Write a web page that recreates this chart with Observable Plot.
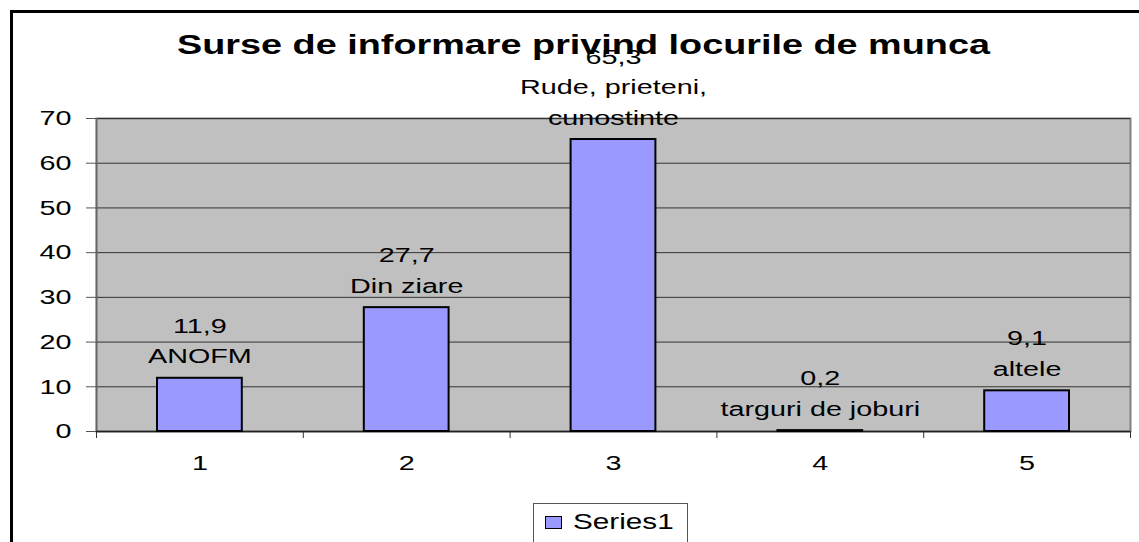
<!DOCTYPE html>
<html>
<head>
<meta charset="utf-8">
<script src="https://cdn.jsdelivr.net/npm/d3@7"></script>
<script src="https://cdn.jsdelivr.net/npm/@observablehq/plot@0.6"></script>
<style>
  html, body { margin: 0; padding: 0; background: #fff; }
  #wrap { position: relative; width: 1139px; height: 542px; overflow: hidden; font-family: "Liberation Sans", Arial, sans-serif; }
  #frame { position: absolute; left: 10px; top: 10px; width: 1200px; height: 600px; border-left: 3px solid #000; border-top: 3px solid #000; box-sizing: border-box; }
  #title { position: absolute; left: 14px; width: 1139px; top: 29px; text-align: center; font-weight: bold; font-size: 28px; color: #000; transform: scaleX(1.35); transform-origin: 569.5px 50%; }
  #legend { position: absolute; left: 533px; top: 503px; width: 155px; height: 60px; border: 1px solid #555; box-sizing: border-box; background: #fff; }
  #legend .sw { position: absolute; left: 11px; top: 12px; width: 15px; height: 11px; background: #9999FF; border: 1.5px solid #000; }
  #legend .lb { position: absolute; left: 39px; top: 5px; font-size: 22px; color: #000; transform: scaleX(1.35); transform-origin: 0 50%; }
  #chart { position: absolute; left: 0; top: 0; }
</style>
</head>
<body>
<div id="wrap">
  <div id="chart"></div>
  <div id="frame"></div>
  <div id="title"></div>
  <div id="legend"><div class="sw"></div><div class="lb"></div></div>
</div>
<script>
const titleText = "Surse de informare privind locurile de munca";
const seriesName = "Series1";
const categories = [1, 2, 3, 4, 5];
const values = [11.9, 27.7, 65.3, 0.2, 9.1];
const names = ["ANOFM", "Din ziare", "Rude, prieteni,\ncunostinte", "targuri de joburi", "altele"];
const yTicks = [0, 10, 20, 30, 40, 50, 60, 70];

const data = categories.map((c, i) => ({cat: c, value: values[i], name: names[i]}));
const boundaries = [categories[0] - 0.5, ...categories.map(c => c + 0.5)];
const fmt = v => String(v).replace(".", ",");

document.getElementById("title").textContent = titleText;
document.querySelector("#legend .lb").textContent = seriesName;

const font = "Liberation Sans, Arial, sans-serif";
const chart = Plot.plot({
  width: 1139,
  height: 542,
  marginLeft: 96,
  marginRight: 9,
  marginTop: 118,
  marginBottom: 111,
  style: {fontFamily: font, fontSize: "21px", color: "#000", background: "transparent"},
  x: {domain: [categories[0] - 0.5, categories[categories.length - 1] + 0.5]},
  y: {domain: [0, 70]},
  marks: [
    Plot.frame({fill: "#C0C0C0", stroke: "#808080", strokeWidth: 2}),
    Plot.gridY(yTicks.slice(1), {stroke: "#333", strokeOpacity: 1, strokeWidth: 1}),
    Plot.axisY(yTicks, {tickSize: 10, tickPadding: 15, stroke: "#555", fontSize: 21, label: null}),
    Plot.axisX(boundaries, {tickSize: 7, tickFormat: () => "", stroke: "#333", label: null}),
    Plot.axisX(categories, {tickSize: 0, tickPadding: 24, fontSize: 21, tickFormat: d => String(d), label: null}),
    Plot.ruleX([boundaries[0]], {stroke: "#666", strokeWidth: 1.5}),
    Plot.ruleY([0], {stroke: "#222", strokeWidth: 1.5}),
    Plot.rectY(data, {x1: d => d.cat - 0.5, x2: d => d.cat + 0.5, y1: 0, y2: "value", insetLeft: 61, insetRight: 61, fill: "#9999FF", stroke: "#000", strokeWidth: 2}),
    Plot.text(data, {x: "cat", y: "value", text: d => fmt(d.value) + "\n" + d.name, lineAnchor: "bottom", lineHeight: 1.45, dy: -15, fontSize: 21, fill: "#000"})
  ]
});
document.getElementById("chart").appendChild(chart);

// The reference's lettering is horizontally stretched; reproduce that about each text's anchor.
const sx = 1.37;
chart.querySelectorAll("text").forEach(el => {
  const t = el.getAttribute("transform") || "";
  const X = parseFloat(el.getAttribute("x")) || 0;
  const Y = parseFloat(el.getAttribute("y")) || 0;
  el.setAttribute("transform", `${t} translate(${X},${Y}) scale(${sx},1) translate(${-X},${-Y})`);
});
</script>
</body>
</html>
